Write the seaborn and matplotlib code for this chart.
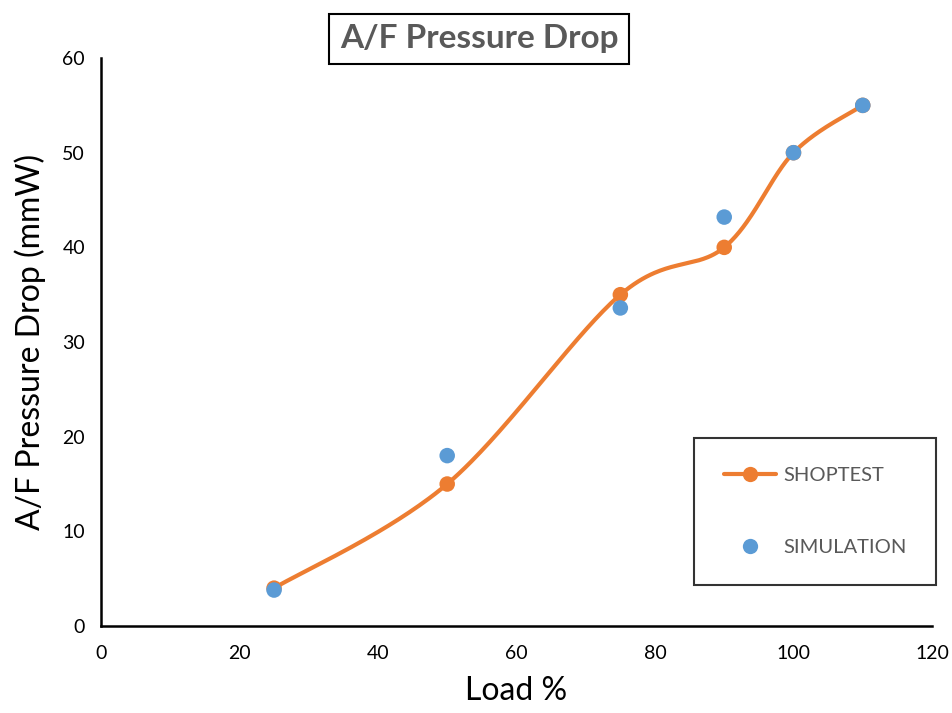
import numpy as np
import pandas as pd
import matplotlib
matplotlib.use("Agg")
import matplotlib.pyplot as plt
from matplotlib.lines import Line2D
import seaborn as sns

# Load points and measured / simulated pressure drop
load = [25, 50, 75, 90, 100, 110]
shoptest = [4, 15, 35, 40, 50, 55]
simulation = [3.8, 18, 33.6, 43.2, 50, 55]

x_ticks = [0, 20, 40, 60, 80, 100, 120]
y_ticks = [0, 10, 20, 30, 40, 50, 60]

ORANGE = "#ED7D31"
BLUE = "#5B9BD5"
GREY = "#595959"


def smooth_curve(xs, ys, n=60):
    """Catmull-Rom style cubic Bezier through every point (spreadsheet smoothing)."""
    pts = np.column_stack([xs, ys]).astype(float)
    out = []
    for i in range(len(pts) - 1):
        p0 = pts[i - 1] if i > 0 else pts[i]
        p1, p2 = pts[i], pts[i + 1]
        p3 = pts[i + 2] if i + 2 < len(pts) else pts[i + 1]
        c1 = p1 + (p2 - p0) / 6.0
        c2 = p2 - (p3 - p1) / 6.0
        t = np.linspace(0, 1, n)[:, None]
        seg = ((1 - t) ** 3) * p1 + 3 * ((1 - t) ** 2) * t * c1 + 3 * (1 - t) * t ** 2 * c2 + t ** 3 * p2
        out.append(seg if i == 0 else seg[1:])
    arr = np.vstack(out)
    return arr[:, 0], arr[:, 1]


sns.set_style("white")
plt.rcParams["font.family"] = ["Lato", "DejaVu Sans"]

fig = plt.figure(figsize=(9.52, 7.13), dpi=100)
ax = fig.add_axes([0.106, 0.122, 0.873, 0.7966])

sx, sy = smooth_curve(load, shoptest)
curve = pd.DataFrame({"load": sx, "dp": sy})
sns.lineplot(data=curve, x="load", y="dp", sort=False, color=ORANGE, lw=3.0, ax=ax, zorder=2)

df = pd.DataFrame({"load": load, "shoptest": shoptest, "simulation": simulation})
sns.scatterplot(data=df, x="load", y="shoptest", color=ORANGE, s=125, edgecolor="none", ax=ax, zorder=3)
sns.scatterplot(data=df, x="load", y="simulation", color=BLUE, s=125, edgecolor="none", ax=ax, zorder=4)

ax.set_xlim(0, 120)
ax.set_ylim(0, 60)
ax.set_xticks(x_ticks)
ax.set_yticks(y_ticks)
ax.tick_params(axis="both", direction="inout", length=9, width=1.8, color="black",
               labelsize=14, labelcolor="black")
ax.tick_params(axis="x", pad=9)
ax.tick_params(axis="y", pad=7)

for side in ("top", "right"):
    ax.spines[side].set_visible(False)
for side in ("left", "bottom"):
    ax.spines[side].set_color("black")
    ax.spines[side].set_linewidth(1.8)

ax.set_xlabel("Load %", fontsize=23, color="black", labelpad=10)
ax.set_ylabel("A/F Pressure Drop (mmW)", fontsize=23, color="black", labelpad=12)

fig.text(0.5035, 0.9455, "A/F Pressure Drop", ha="center", va="center",
         fontsize=24, fontweight="bold", color=GREY,
         bbox=dict(boxstyle="square,pad=0.32", facecolor="white", edgecolor="black", linewidth=1.5))

handles = [
    Line2D([0], [0], color=ORANGE, lw=3.0, marker="o", markersize=11, markeredgewidth=0),
    Line2D([0], [0], color=BLUE, lw=0, marker="o", markersize=11, markeredgewidth=0),
]
leg = ax.legend(handles, ["SHOPTEST", "SIMULATION"], loc="upper left",
                bbox_to_anchor=(0.714, 0.331), frameon=True, fancybox=False,
                fontsize=14.5, labelspacing=2.7, handlelength=2.6, handletextpad=0.35,
                borderpad=1.45, borderaxespad=0)
leg.get_frame().set_edgecolor("black")
leg.get_frame().set_linewidth(1.5)
for t in leg.get_texts():
    t.set_color(GREY)

fig.savefig("out.png", dpi=100)
